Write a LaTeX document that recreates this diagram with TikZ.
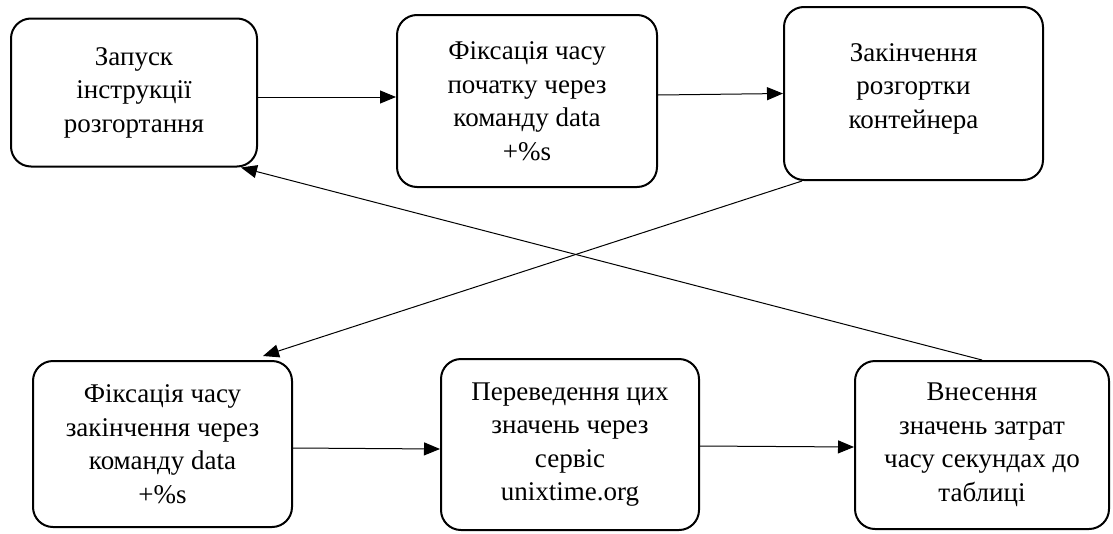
\documentclass[tikz,border=0pt]{standalone}
\usepackage{fontspec}
\setmainfont{Liberation Serif}
\usetikzlibrary{arrows.meta}
\begin{document}
\begin{tikzpicture}[x=1pt,y=-1pt,line join=round,>={Triangle[length=16pt,width=13pt]},
	box/.style={draw,line width=2pt,rounded corners=20pt,align=center,inner sep=0pt,font=\fontsize{27}{33.5}\selectfont},
	link/.style={->,line width=1pt}]
	\useasboundingbox (0,0) rectangle (1113,533);
	\path
	(134,92.5) node[box,minimum width=246pt,minimum height=148pt] (b1) {Запуск\\інструкції\\розгортання}
	(527,101) node[box,minimum width=260pt,minimum height=172pt] (b2) {Фіксація часу\\початку через\\команду data\\+\%s}
	(913.5,93.5) node[box,minimum width=259pt,minimum height=173pt] (b3) {Закінчення\\розгортки\\контейнера\rule[-15pt]{0pt}{0pt}}
	(162.5,444) node[box,minimum width=259pt,minimum height=166pt] (b4) {Фіксація часу\\закінчення через\\команду data\\+\%s}
	(570,444.5) node[box,minimum width=258pt,minimum height=171pt] (b5) {Переведення цих\\значень через\\сервіс\\unixtime.org}
	(982,445) node[box,minimum width=254pt,minimum height=168pt] (b6) {Внесення\\значень затрат\\часу секундах до\\таблиці};
	\draw[link] ([yshift=-4.5pt]b1.east)--([yshift=4pt]b2.west);
	\draw[link] ([yshift=6pt]b2.east)--(b3.west);
	\draw[link] ([xshift=19pt]b3.south west)--([xshift=-30pt,yshift=4pt]b4.north east);
	\draw[link] ([yshift=-4pt]b4.east)--([yshift=-4.5pt]b5.west);
	\draw[link] ([yshift=-1.5pt]b5.east)--([yshift=-2pt]b6.west);
	\draw[link] (b6.north)--([xshift=-17pt]b1.south east);
\end{tikzpicture}
\end{document}
